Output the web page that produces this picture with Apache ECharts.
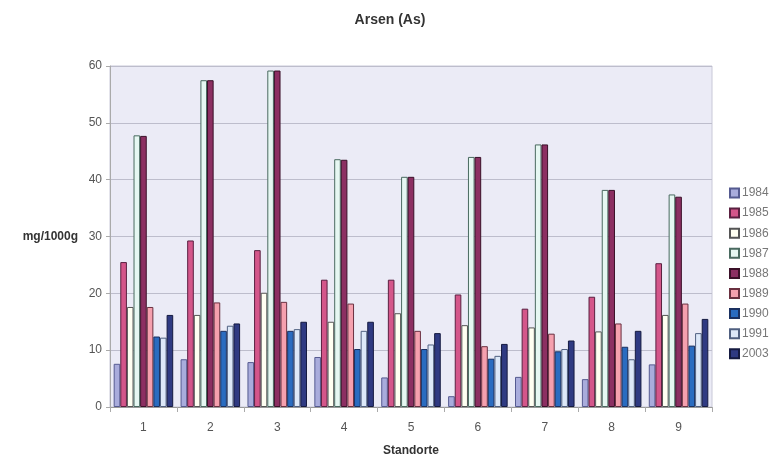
<!DOCTYPE html>
<html>
<head>
<meta charset="utf-8">
<script src="https://cdn.jsdelivr.net/npm/echarts@6/dist/echarts.min.js"></script>
<style>html,body{margin:0;padding:0;background:#fff}#c{width:780px;height:462px}</style>
</head>
<body>
<div id="c"></div>
<script>
const categories = ['1','2','3','4','5','6','7','8','9'];
const years = ['1984','1985','1986','1987','1988','1989','1990','1991','2003'];
const v1984 = [7.6, 8.4, 7.9, 8.8, 5.2, 1.9, 5.3, 4.9, 7.5];
const v1985 = [25.5, 29.3, 27.6, 22.4, 22.4, 19.8, 17.3, 19.4, 25.3];
const v1986 = [17.6, 16.2, 20.1, 15.0, 16.5, 14.4, 14.0, 13.3, 16.2];
const v1987 = [47.8, 57.5, 59.2, 43.6, 40.5, 44.0, 46.2, 38.2, 37.4];
const v1988 = [47.7, 57.5, 59.2, 43.5, 40.5, 44.0, 46.2, 38.2, 37.0];
const v1989 = [17.6, 18.4, 18.5, 18.2, 13.4, 10.7, 12.9, 14.7, 18.2];
const v1990 = [12.4, 13.4, 13.4, 10.2, 10.2, 8.5, 9.8, 10.6, 10.8];
const v1991 = [12.2, 14.3, 13.7, 13.4, 11.0, 9.0, 10.2, 8.4, 13.0];
const v2003 = [16.2, 14.7, 15.0, 15.0, 13.0, 11.1, 11.7, 13.4, 15.5];
const yTicks = [0, 10, 20, 30, 40, 50, 60];

const seriesValues = [v1984, v1985, v1986, v1987, v1988, v1989, v1990, v1991, v2003];
const colors = ['#a9acdc', '#d4568a', '#fffff2', '#e6f7f2', '#8c2f62', '#f5a0ae', '#2a6cc0', '#dde8f8', '#2f3a82'];
const borders = ['#555a90', '#5a2040', '#555', '#4a6a60', '#3a1028', '#6a3040', '#1a3060', '#506080', '#151a40'];

const chart = echarts.init(document.getElementById('c'), null, {renderer: 'canvas'});
chart.setOption({
  animation: false,
  backgroundColor: '#ffffff',
  title: {
    text: 'Arsen (As)', left: 'center', top: 8,
    textStyle: {fontFamily: 'Liberation Sans', fontSize: 14, fontWeight: 'bold', color: '#333'}
  },
  legend: {
    orient: 'vertical', left: 724, top: 182, itemGap: 8.1, itemWidth: 9, itemHeight: 9,
    icon: 'rect',
    textStyle: {fontFamily: 'Liberation Sans', fontSize: 12, color: '#777', padding: [0, 0, 0, -2]},
    data: years
  },
  grid: {left: 110, right: 68, top: 66, bottom: 52, backgroundColor: '#ebebf6', show: true, borderColor: '#c8c8d8', borderWidth: 1},
  xAxis: {
    type: 'category', data: categories,
    name: 'Standorte', nameLocation: 'middle', nameGap: 38,
    nameTextStyle: {fontFamily: 'Liberation Sans', fontSize: 12, fontWeight: 'bold', color: '#333'},
    axisLine: {lineStyle: {color: '#999'}},
    axisTick: {show: true, alignWithLabel: false, lineStyle: {color: '#aaa'}},
    axisLabel: {fontFamily: 'Liberation Sans', fontSize: 12, color: '#555', margin: 15}
  },
  yAxis: {
    type: 'value', min: 0, max: 60, interval: 10,
    name: 'mg/1000g', nameLocation: 'middle', nameRotate: 0, nameGap: 32,
    nameTextStyle: {fontFamily: 'Liberation Sans', fontSize: 12, fontWeight: 'bold', color: '#333'},
    axisLine: {show: true, lineStyle: {color: '#aaa'}},
    axisTick: {show: true, length: 4, lineStyle: {color: '#aaa'}},
    axisLabel: {fontFamily: 'Liberation Sans', fontSize: 12, color: '#555', margin: 8,
      formatter: v => yTicks.includes(v) ? String(v) : ''},
    splitLine: {lineStyle: {color: '#bdbdcc'}}
  },
  series: years.map((y, i) => ({
    name: y, type: 'bar', data: seriesValues[i],
    barGap: '0%', barCategoryGap: '11%',
    itemStyle: {color: colors[i], borderColor: borders[i], borderWidth: 1}
  }))
});
</script>
</body>
</html>
